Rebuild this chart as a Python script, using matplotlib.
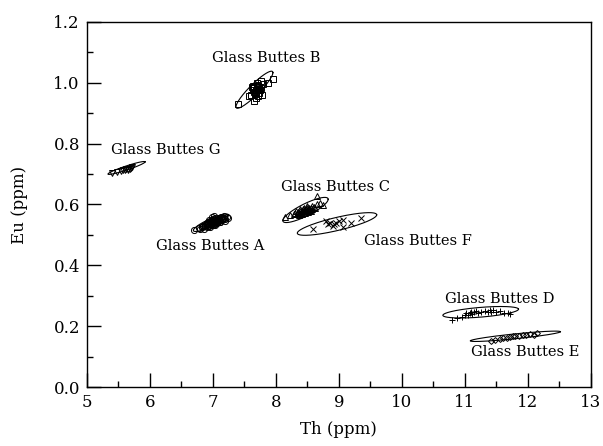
import numpy as np
import matplotlib
matplotlib.use("Agg")
import matplotlib.pyplot as plt
from matplotlib.ticker import MultipleLocator

plt.rcParams['font.family'] = ['DejaVu Serif']

# --- data (Th, Eu in ppm) ---
a_th = [6.70, 6.78, 6.82, 6.85, 6.88, 6.90, 6.92, 6.94, 6.95, 6.97, 6.98, 7.00,
        7.01, 7.02, 7.03, 7.05, 7.06, 7.08, 7.10, 7.12, 7.14, 7.16, 7.18, 7.20,
        7.22, 6.86, 6.91, 6.96, 7.00, 7.04, 7.07, 7.11, 6.89, 6.93, 6.99, 7.09,
        7.13, 7.17, 6.98, 7.02, 6.84, 6.87, 6.90, 6.93, 6.96, 6.99, 7.01, 7.04,
        7.06, 7.09, 7.12, 7.15, 6.94, 6.97, 7.03, 7.07, 6.80, 6.83, 7.19, 7.24]
a_eu = [0.516, 0.522, 0.525, 0.528, 0.530, 0.532, 0.535, 0.530, 0.538, 0.536, 0.542, 0.540,
        0.545, 0.538, 0.548, 0.544, 0.550, 0.547, 0.552, 0.548, 0.555, 0.553, 0.556, 0.552,
        0.558, 0.520, 0.526, 0.527, 0.533, 0.536, 0.541, 0.543, 0.535, 0.540, 0.546, 0.556,
        0.560, 0.562, 0.560, 0.563, 0.530, 0.534, 0.538, 0.543, 0.546, 0.550, 0.552, 0.555,
        0.541, 0.545, 0.544, 0.548, 0.549, 0.531, 0.534, 0.539, 0.520, 0.526, 0.547, 0.554]

b_th = [7.40, 7.95, 7.88, 7.60, 7.65, 7.70, 7.72, 7.68, 7.75, 7.62, 7.70, 7.78,
        7.66, 7.73, 7.64, 7.80, 7.69, 7.58, 7.76, 7.71, 7.67, 7.74, 7.63, 7.69,
        7.72, 7.66, 7.71, 7.77]
b_eu = [0.930, 1.012, 1.000, 0.960, 0.970, 0.980, 0.990, 0.950, 0.975, 0.985, 1.000, 0.960,
        0.940, 0.965, 0.990, 0.995, 0.975, 0.955, 1.005, 0.955, 0.965, 0.985, 0.975, 0.962,
        0.978, 0.982, 0.992, 0.982]

c_th = [8.15, 8.22, 8.28, 8.30, 8.33, 8.35, 8.38, 8.40, 8.42, 8.44, 8.45, 8.47,
        8.48, 8.50, 8.52, 8.53, 8.55, 8.57, 8.60, 8.62, 8.65, 8.70, 8.36, 8.41,
        8.46, 8.51, 8.56, 8.32, 8.39, 8.44, 8.49, 8.58, 8.66, 8.74, 8.37, 8.43,
        8.47, 8.54, 8.41, 8.50]
c_eu = [0.560, 0.565, 0.568, 0.572, 0.570, 0.575, 0.578, 0.574, 0.580, 0.577, 0.583, 0.580,
        0.586, 0.582, 0.588, 0.584, 0.590, 0.586, 0.592, 0.588, 0.628, 0.605, 0.566, 0.569,
        0.572, 0.576, 0.578, 0.580, 0.585, 0.590, 0.594, 0.596, 0.600, 0.598, 0.573, 0.586,
        0.577, 0.581, 0.571, 0.590]

d_th = [10.80, 10.88, 10.95, 11.00, 11.02, 11.05, 11.08, 11.10, 11.12, 11.15, 11.18, 11.20,
        11.25, 11.32, 11.36, 11.40, 11.42, 11.45, 11.50, 11.55, 11.62, 11.68, 11.72]
d_eu = [0.222, 0.226, 0.232, 0.238, 0.244, 0.236, 0.242, 0.248, 0.240, 0.246, 0.250, 0.244,
        0.248, 0.250, 0.246, 0.254, 0.248, 0.252, 0.246, 0.250, 0.244, 0.242, 0.240]

e_th = [11.41, 11.48, 11.55, 11.60, 11.66, 11.72, 11.76, 11.80, 11.86, 11.92, 11.97, 12.04,
        12.10, 12.14]
e_eu = [0.152, 0.156, 0.158, 0.161, 0.163, 0.165, 0.167, 0.169, 0.168, 0.171, 0.170, 0.173,
        0.172, 0.177]

f_th = [8.59, 8.80, 8.83, 8.86, 8.90, 8.92, 8.95, 9.00, 9.06, 9.06, 9.20, 9.35]
f_eu = [0.520, 0.545, 0.535, 0.540, 0.530, 0.535, 0.540, 0.545, 0.550, 0.526, 0.540, 0.555]

g_th = [5.40, 5.48, 5.55, 5.58, 5.60, 5.62, 5.65, 5.66, 5.68, 5.70, 5.72]
g_eu = [0.703, 0.706, 0.710, 0.712, 0.713, 0.715, 0.716, 0.714, 0.718, 0.720, 0.722]

# ellipse: centre Th, centre Eu, half major axis (dTh, dEu), vertical half chord
ell_a = (6.97, 0.540, 0.28, 0.025, 0.014)
ell_b = (7.66, 0.977, 0.293, 0.056, 0.024)
ell_c = (8.47, 0.582, 0.36, 0.035, 0.022)
ell_d = (11.25, 0.246, 0.60, 0.010, 0.016)
ell_e = (11.80, 0.167, 0.715, 0.015, 0.008)
ell_f = (8.97, 0.536, 0.63, 0.030, 0.022)
ell_g = (5.63, 0.720, 0.295, 0.020, 0.007)

labels = ['Glass Buttes A', 'Glass Buttes B', 'Glass Buttes C', 'Glass Buttes D',
          'Glass Buttes E', 'Glass Buttes F', 'Glass Buttes G']
label_th = [6.95, 7.85, 8.95, 11.55, 11.95, 10.25, 6.25]
label_eu = [0.462, 1.080, 0.657, 0.291, 0.116, 0.479, 0.780]

groups = [
    (a_th, a_eu, ell_a, 'o'),
    (b_th, b_eu, ell_b, 's'),
    (c_th, c_eu, ell_c, '^'),
    (d_th, d_eu, ell_d, '+'),
    (e_th, e_eu, ell_e, 'D'),
    (f_th, f_eu, ell_f, 'x'),
    (g_th, g_eu, ell_g, 'v'),
]

fig = plt.figure(figsize=(6.03, 4.46), dpi=100)
ax = fig.add_axes([0.144, 0.132, 0.836, 0.819])

t = np.linspace(0, 2 * np.pi, 200)
for th, eu, (cx, cy, ax_, ay_, h), mk in groups:
    size = 3.0 if mk == 'D' else 4.4
    ax.plot(th, eu, linestyle='none', marker=mk, markersize=size,
            markerfacecolor='none', markeredgecolor='black', markeredgewidth=0.7)
    ax.plot(cx + np.cos(t) * ax_, cy + np.cos(t) * ay_ + np.sin(t) * h,
            color='black', lw=0.8)

for txt, x, y in zip(labels, label_th, label_eu):
    ax.text(x, y, txt, ha='center', va='center', fontsize=10.5)

ax.set_xlim(5, 13)
ax.set_ylim(0, 1.2)
ax.xaxis.set_major_locator(MultipleLocator(1))
ax.xaxis.set_minor_locator(MultipleLocator(0.5))
ax.yaxis.set_major_locator(MultipleLocator(0.2))
ax.yaxis.set_minor_locator(MultipleLocator(0.1))
ax.yaxis.set_major_formatter(plt.FormatStrFormatter('%.1f'))
ax.tick_params(which='both', direction='in', top=False, right=False, labelsize=12)
ax.tick_params(which='major', length=10, width=1, pad=5)
ax.tick_params(which='minor', length=4.5, width=1)
for s in ax.spines.values():
    s.set_linewidth(1.0)

ax.set_xlabel('Th (ppm)', fontsize=12, labelpad=7)
ax.set_ylabel('Eu (ppm)', fontsize=12, labelpad=18)

fig.savefig('out.png', dpi=100)
